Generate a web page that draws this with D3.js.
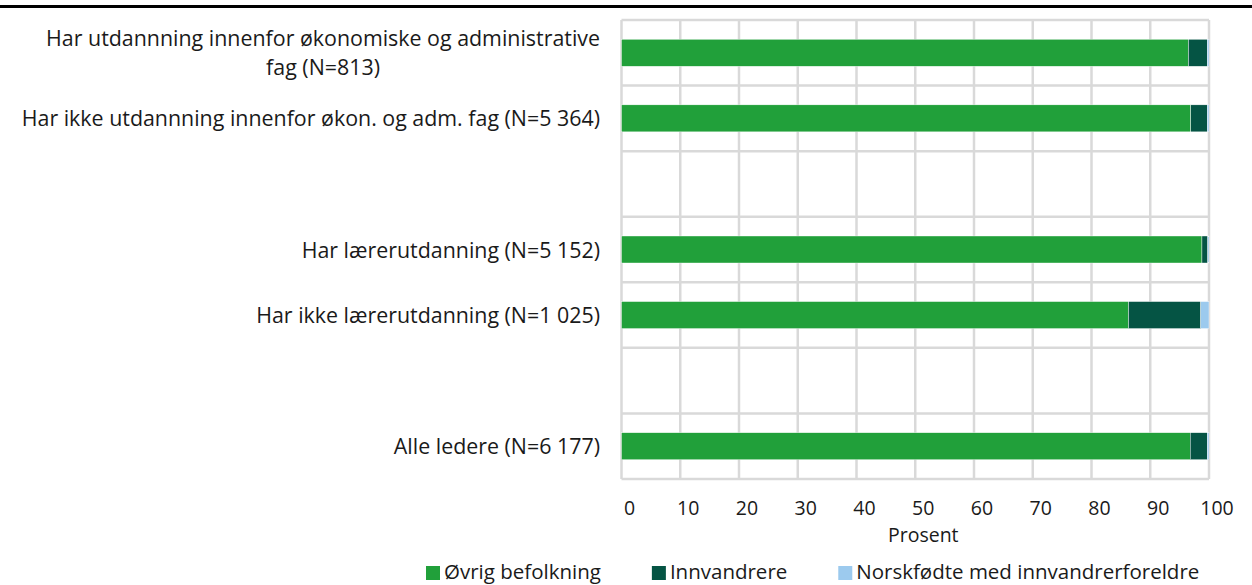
<!DOCTYPE html>
<html lang="no">
<head>
<meta charset="utf-8">
<title>Ledere etter innvandringsbakgrunn</title>
<style>
  body { margin: 0; background: #fff; }
  svg text { font-family: "Open Sans", sans-serif; fill: #1a1a1a; }
</style>
</head>
<body>
<div id="chart"></div>
<script src="https://cdnjs.cloudflare.com/ajax/libs/d3/7.8.5/d3.min.js"></script>
<script>
// categories, top to bottom (empty rows are spacers in the original)
var categories = [
  "Har utdannning innenfor økonomiske og administrative|fag (N=813)",
  "Har ikke utdannning innenfor økon. og adm. fag (N=5 364)",
  "",
  "Har lærerutdanning (N=5 152)",
  "Har ikke lærerutdanning (N=1 025)",
  "",
  "Alle ledere (N=6 177)"
];
var ovrig  = [96.5, 96.9, null, 98.8, 86.3, null, 96.8];
var innv   = [3.2, 2.8, null, 1.0, 12.3, null, 2.9];
var norsk  = [0.3, 0.3, null, 0.2, 1.4, null, 0.3];
var seriesNames = ["Øvrig befolkning", "Innvandrere", "Norskfødte med innvandrerforeldre"];
var ticks = [0, 10, 20, 30, 40, 50, 60, 70, 80, 90, 100];

var colors = ["#21a03a", "#055444", "#9ccaee"];
var W = 1252, H = 585;
var x0 = 621.5, x1 = 1209, yTop = 20, yBot = 479;
var fs = 21.4;

var svg = d3.select("#chart").append("svg")
    .attr("width", W).attr("height", H);

// thick rule on top
svg.append("line")
   .attr("x1", 0).attr("x2", W)
   .attr("y1", 6.5).attr("y2", 6.5)
   .attr("stroke", "#000").attr("stroke-width", 3);

var x = d3.scaleLinear().domain([0, 100]).range([x0, x1]);
var y = d3.scaleBand()
    .domain(d3.range(categories.length))
    .range([yTop, yBot])
    .padding(0);

var grid = svg.append("g");
// vertical grid
grid.selectAll("line.v").data(ticks).enter().append("line")
    .attr("x1", function(d){ return x(d); })
    .attr("x2", function(d){ return x(d); })
    .attr("y1", yTop).attr("y2", yBot)
    .attr("stroke", "#d9d9d9").attr("stroke-width", 2.5);
// horizontal grid at band edges
var edges = d3.range(categories.length + 1);
grid.selectAll("line.h").data(edges).enter().append("line")
    .attr("x1", x0).attr("x2", x1)
    .attr("y1", function(i){ return yTop + i * y.step(); })
    .attr("y2", function(i){ return yTop + i * y.step(); })
    .attr("stroke", "#d9d9d9").attr("stroke-width", 2.5);

// stack the series
var rows = categories.map(function(c, i){
  return {i: i, a: ovrig[i], b: innv[i], c: norsk[i]};
}).filter(function(d){ return d.a != null; });
var stack = d3.stack().keys(["a", "b", "c"]);
var stacked = stack(rows);

var barH = 27;
svg.append("g").selectAll("g").data(stacked).enter().append("g")
    .attr("fill", function(d, k){ return colors[k]; })
  .selectAll("rect").data(function(d){ return d; }).enter().append("rect")
    .attr("x", function(d){ return x(d[0]); })
    .attr("width", function(d){ return x(d[1]) - x(d[0]); })
    .attr("y", function(d){ return y(d.data.i) + y.bandwidth() / 2 - barH / 2; })
    .attr("height", barH)
    .attr("stroke", "#fff").attr("stroke-width", 0.4);

// category labels (right aligned block, lines centred)
var labels = svg.append("g").attr("font-size", fs);
categories.forEach(function(c, i){
  if (!c) return;
  var lines = c.split("|");
  var t = labels.append("text")
      .attr("text-anchor", "middle")
      .attr("dominant-baseline", "central");
  lines.forEach(function(l, k){
    t.append("tspan").text(l);
  });
  var spans = t.selectAll("tspan").nodes();
  var maxW = d3.max(spans, function(n){ return n.getComputedTextLength(); });
  var cx = 600 - maxW / 2;
  var cy = y(i) + y.bandwidth() / 2 - 1 - (lines.length - 1) * 29 / 2;
  spans.forEach(function(n, k){
    d3.select(n).attr("x", cx).attr("y", cy + k * 29);
  });
});

// x tick labels
svg.append("g").attr("font-size", 19.5).selectAll("text").data(ticks).enter().append("text")
    .attr("x", function(d){ return x(d) + 8; })
    .attr("y", 507)
    .attr("text-anchor", "middle")
    .attr("dominant-baseline", "central")
    .text(function(d){ return d; });

svg.append("text")
    .attr("font-size", 19.5)
    .attr("x", (x0 + x1) / 2 + 8)
    .attr("y", 534)
    .attr("text-anchor", "middle")
    .attr("dominant-baseline", "central")
    .text("Prosent");

// legend
var lg = svg.append("g").attr("font-size", 20.5);
var lx = 426;
seriesNames.forEach(function(s, k){
  lg.append("rect")
    .attr("x", lx).attr("y", 566)
    .attr("width", 14).attr("height", 14)
    .attr("fill", colors[k]);
  var t = lg.append("text")
    .attr("x", lx + 18).attr("y", 571)
    .attr("dominant-baseline", "central")
    .text(s);
  lx += 18 + t.node().getComputedTextLength() + 51;
});
</script>
</body>
</html>
